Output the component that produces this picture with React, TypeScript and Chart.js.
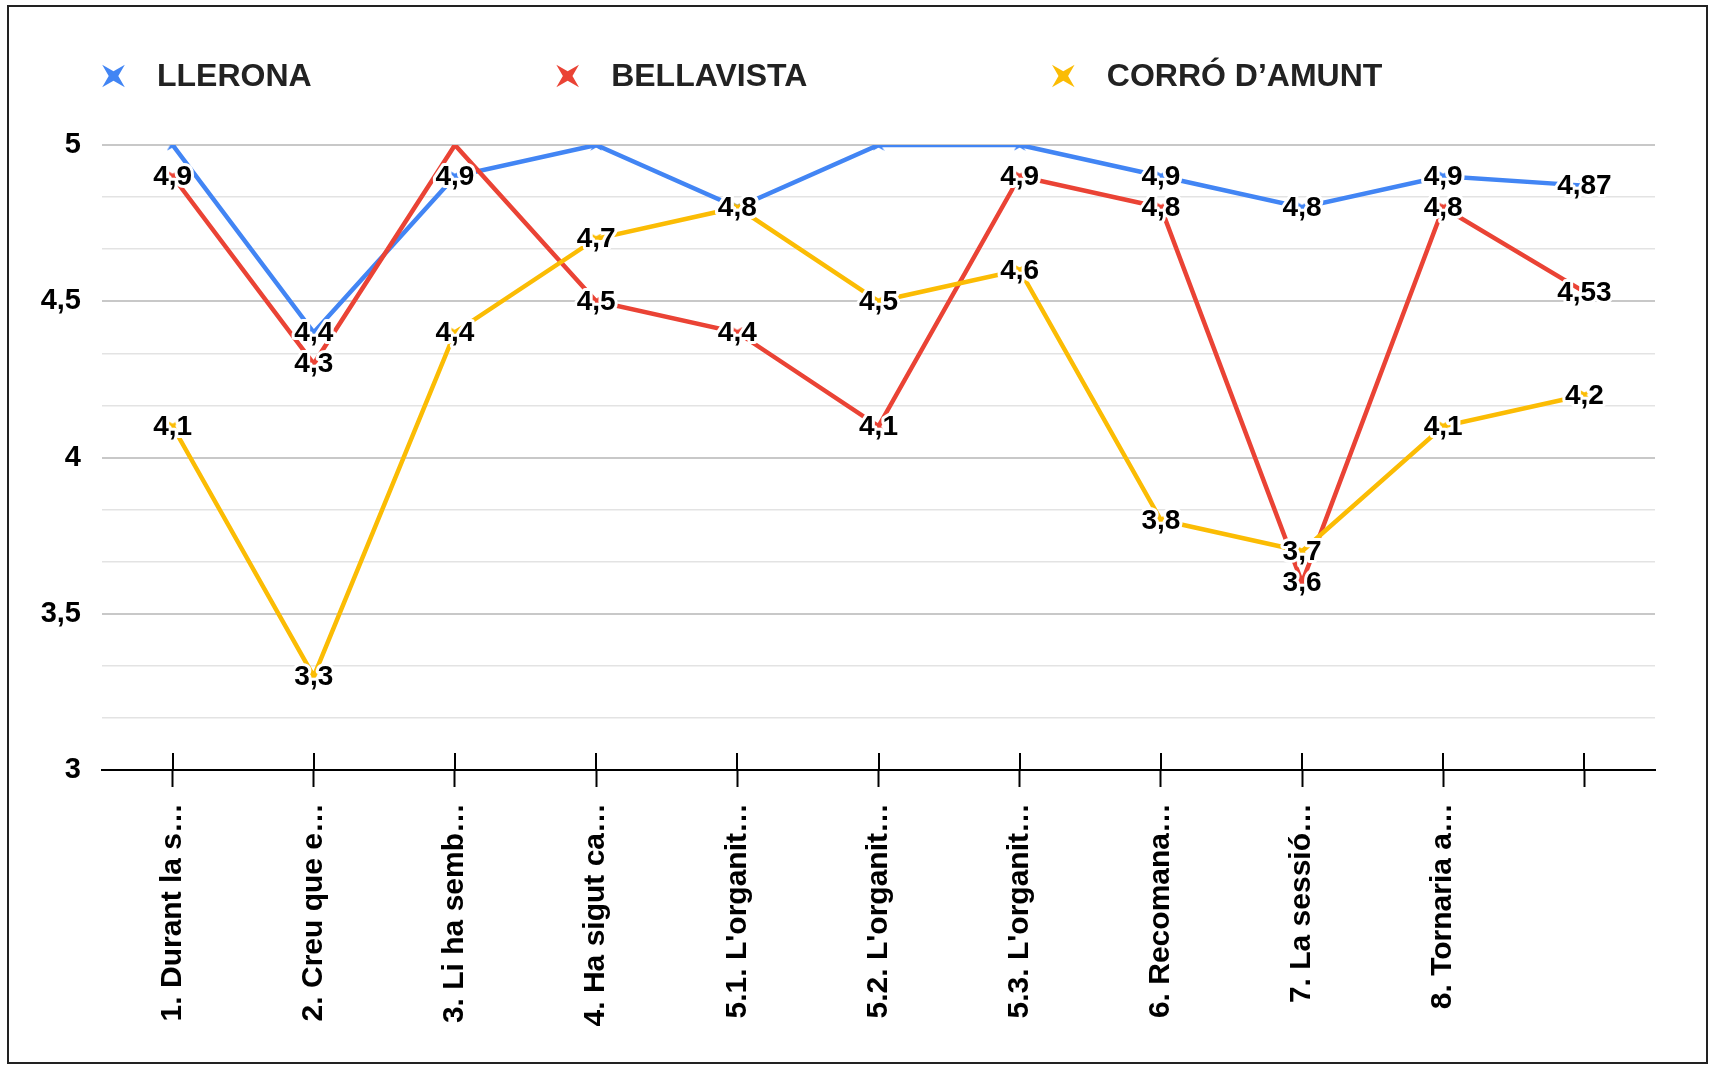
import React, { useEffect, useRef } from 'react';
import { Chart, registerables } from 'chart.js';

Chart.register(...registerables);

// ---------- data ----------
const categories = [
  '1. Durant la s…',
  '2. Creu que e…',
  '3. Li ha semb…',
  '4. Ha sigut ca…',
  "5.1. L'organit…",
  "5.2. L'organit…",
  "5.3. L'organit…",
  '6. Recomana…',
  '7. La sessió…',
  '8. Tornaria a…',
  '',
];
const seriesNames = ['LLERONA', 'BELLAVISTA', 'CORRÓ D’AMUNT'];
const llerona = [5, 4.4, 4.9, 5, 4.8, 5, 5, 4.9, 4.8, 4.9, 4.87];
const bellavista = [4.9, 4.3, 5, 4.5, 4.4, 4.1, 4.9, 4.8, 3.6, 4.8, 4.53];
const corroDAmunt = [4.1, 3.3, 4.4, 4.7, 4.8, 4.5, 4.6, 3.8, 3.7, 4.1, 4.2];
const yMajorTicks = [3, 3.5, 4, 4.5, 5];
const minorPerMajor = 3;
const seriesColors = ['#4285F4', '#EA4335', '#FBBC04'];

const FONT = '"Liberation Sans", Arial, Helvetica, sans-serif';

function fmt(v: number): string {
  return String(v).replace('.', ',');
}

function isMajor(v: number): boolean {
  return yMajorTicks.some((m) => Math.abs(m - v) < 1e-6);
}

function drawStar(ctx: CanvasRenderingContext2D, cx: number, cy: number, R: number, color: string) {
  const r = R * 0.3;
  ctx.beginPath();
  for (let k = 0; k < 8; k++) {
    const ang = Math.PI / 4 + (k * Math.PI) / 4;
    const rad = k % 2 === 0 ? R : r;
    const px = cx + rad * Math.cos(ang);
    const py = cy + rad * Math.sin(ang);
    if (k === 0) ctx.moveTo(px, py);
    else ctx.lineTo(px, py);
  }
  ctx.closePath();
  ctx.fillStyle = color;
  ctx.fill();
}

function makeStarCanvas(color: string, size: number): HTMLCanvasElement {
  const c = document.createElement('canvas');
  c.width = size;
  c.height = size;
  const cx = c.getContext('2d')!;
  drawStar(cx, size / 2, size / 2, (size / 2) * 1.35, color);
  return c;
}

const legendPlugin = {
  id: 'customLegend',
  afterDraw(chart: any) {
    const ctx: CanvasRenderingContext2D = chart.ctx;
    ctx.save();
    ctx.font = `bold 32px ${FONT}`;
    ctx.textAlign = 'left';
    ctx.textBaseline = 'alphabetic';
    let x = 113.5;
    const yMarker = 76;
    const yBase = 86;
    chart.data.datasets.forEach((ds: any, i: number) => {
      drawStar(ctx, x, yMarker, 16, seriesColors[i]);
      ctx.fillStyle = '#222';
      ctx.fillText(ds.label, x + 43.5, yBase);
      x += 43.5 + ctx.measureText(ds.label).width + 256;
    });
    ctx.restore();
  },
};

const tickUpPlugin = {
  id: 'tickUp',
  afterDraw(chart: any) {
    const xs = chart.scales.x;
    const ctx: CanvasRenderingContext2D = chart.ctx;
    ctx.save();
    ctx.strokeStyle = '#000';
    ctx.lineWidth = 2;
    xs.ticks.forEach((_: any, i: number) => {
      const px = Math.round(xs.getPixelForTick(i));
      ctx.beginPath();
      ctx.moveTo(px, xs.top - 17);
      ctx.lineTo(px, xs.top);
      ctx.stroke();
    });
    ctx.restore();
  },
};

const dataLabelPlugin = {
  id: 'dataLabels',
  afterDatasetsDraw(chart: any) {
    const ctx: CanvasRenderingContext2D = chart.ctx;
    const area = chart.chartArea;
    ctx.save();
    ctx.font = `bold 28px ${FONT}`;
    ctx.textAlign = 'center';
    ctx.textBaseline = 'middle';
    ctx.lineJoin = 'round';
    chart.data.datasets.forEach((ds: any, di: number) => {
      const meta = chart.getDatasetMeta(di);
      meta.data.forEach((pt: any, i: number) => {
        const v = ds.data[i];
        if (v == null) return;
        const text = fmt(v);
        const half = 11;
        if (pt.y - half < area.top) return;
        ctx.lineWidth = 6;
        ctx.strokeStyle = '#fff';
        ctx.strokeText(text, pt.x, pt.y + 1);
        ctx.fillStyle = '#000';
        ctx.fillText(text, pt.x, pt.y + 1);
      });
    });
    ctx.restore();
  },
};

export default function App() {
  const canvasRef = useRef<HTMLCanvasElement | null>(null);

  useEffect(() => {
    if (!canvasRef.current) return;
    Chart.defaults.font.family = FONT;
    const seriesData = [llerona, bellavista, corroDAmunt];
    const orders = [2, 1, 0];
    const chart = new Chart(canvasRef.current, {
      type: 'line',
      data: {
        labels: categories,
        datasets: seriesNames.map((name, i) => ({
          label: name,
          data: seriesData[i],
          borderColor: seriesColors[i],
          backgroundColor: seriesColors[i],
          borderWidth: 4.5,
          tension: 0,
          fill: false,
          order: orders[i],
          pointStyle: makeStarCanvas(seriesColors[i], 12) as any,
          pointRadius: 6,
        })),
      },
      options: {
        responsive: false,
        animation: false,
        layout: { padding: { top: 145, right: 55, bottom: 0, left: 0 } },
        plugins: {
          legend: { display: false },
          tooltip: { enabled: false },
        },
        scales: {
          x: {
            type: 'category',
            offset: true,
            afterFit: (scale: any) => {
              scale.height = 298;
            },
            grid: {
              display: true,
              drawOnChartArea: false,
              drawTicks: true,
              tickLength: 17,
              color: '#000',
              tickColor: '#000',
              tickWidth: 2,
              offset: false,
            },
            border: { display: true, color: '#000', width: 2 },
            ticks: {
              autoSkip: false,
              maxRotation: 90,
              minRotation: 90,
              padding: 16,
              color: '#000',
              font: { size: 30, weight: 'bold', family: FONT },
            },
          },
          y: {
            type: 'linear',
            min: 3,
            max: 5,
            afterFit: (scale: any) => {
              scale.width = 102;
            },
            afterBuildTicks: (scale: any) => {
              const t: { value: number }[] = [];
              for (let m = 0; m < yMajorTicks.length; m++) {
                t.push({ value: yMajorTicks[m] });
                if (m < yMajorTicks.length - 1) {
                  const step = (yMajorTicks[m + 1] - yMajorTicks[m]) / minorPerMajor;
                  for (let k = 1; k < minorPerMajor; k++) {
                    t.push({ value: yMajorTicks[m] + k * step });
                  }
                }
              }
              scale.ticks = t;
            },
            grid: {
              drawTicks: false,
              color: (c: any) => (c.tick && isMajor(c.tick.value) ? '#c8c8c8' : '#e3e3e3'),
              lineWidth: (c: any) => (c.tick && isMajor(c.tick.value) ? 2 : 1.5),
            },
            border: { display: false },
            ticks: {
              padding: 21,
              color: '#000',
              font: { size: 29, weight: 'bold', family: FONT },
              callback: (value: any) => (isMajor(Number(value)) ? fmt(Number(value)) : ''),
            },
          },
        },
      },
      plugins: [dataLabelPlugin, tickUpPlugin, legendPlugin],
    });
    return () => {
      chart.destroy();
    };
  }, []);

  return (
    <div
      style={{
        position: 'absolute',
        left: 0,
        top: 0,
        width: 1710,
        height: 1068,
        background: '#fff',
        overflow: 'hidden',
      }}
    >
      <div
        style={{
          position: 'absolute',
          left: 7,
          top: 5,
          width: 1701,
          height: 1059,
          border: '2px solid #222',
          boxSizing: 'border-box',
        }}
      />
      <canvas
        ref={canvasRef}
        width={1710}
        height={1068}
        style={{ position: 'absolute', left: 0, top: 0, width: 1710, height: 1068, display: 'block' }}
      />
    </div>
  );
}
